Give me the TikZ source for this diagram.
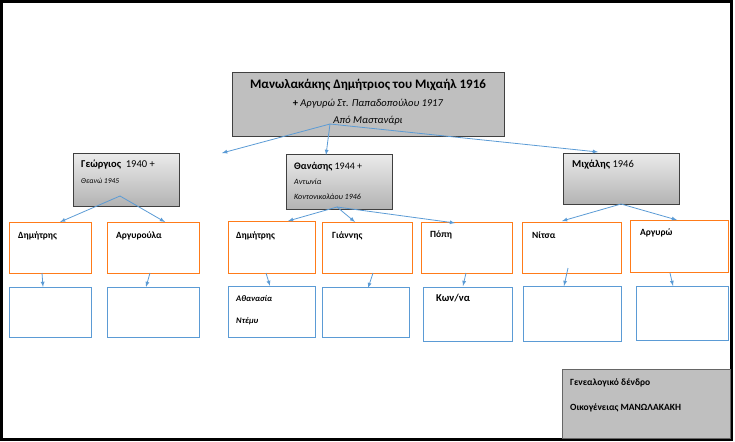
\documentclass[tikz,border=0pt]{standalone}
\usepackage{fontspec}
\setmainfont{Carlito}
\begin{document}
\begin{tikzpicture}[x=1pt,y=-1pt,
 box/.style={draw,anchor=north west,inner sep=0pt,line width=1pt},
 gray/.style={box,draw=black!75,fill=black!25},
 grad/.style={box,draw=black!75,top color=black!8,bottom color=black!30},
 orange/.style={box,draw=orange!85!red!90!white},
 blue/.style={box,draw={rgb,255:red,91;green,155;blue,213}},
 lab/.style={anchor=west,inner sep=0pt,font=\bfseries\fontsize{9.5}{11}\selectfont},
 arr/.style={draw={rgb,255:red,91;green,155;blue,213},line width=0.8pt,-latex}]
\useasboundingbox (0,0) rectangle (735,441);
\draw[line width=3pt] (1.5,1.5) rectangle (731.5,439.5);
% boxes
\node[gray,minimum width=272,minimum height=64] (top) at (232,72) {};
\node[grad,minimum width=106,minimum height=53] (g) at (73,153) {};
\node[grad,minimum width=106,minimum height=55] (t) at (286,154) {};
\node[grad,minimum width=116,minimum height=51] (m) at (563,153) {};
\node[orange,minimum width=82,minimum height=51] (d1) at (9,222) {};
\node[orange,minimum width=92,minimum height=51] (ar) at (107,222) {};
\node[orange,minimum width=87,minimum height=52] (d2) at (228,221) {};
\node[orange,minimum width=90,minimum height=51] (gi) at (322,222) {};
\node[orange,minimum width=91,minimum height=51] (po) at (421,222) {};
\node[orange,minimum width=99,minimum height=51] (ni) at (522,222) {};
\node[orange,minimum width=98,minimum height=52] (ag) at (630,220) {};
\node[blue,minimum width=82,minimum height=50] (b1) at (9,287) {};
\node[blue,minimum width=92,minimum height=50] (b2) at (107,287) {};
\node[blue,minimum width=87,minimum height=51] (b3) at (228,286) {};
\node[blue,minimum width=87,minimum height=50] (b4) at (322,287) {};
\node[blue,minimum width=89,minimum height=54] (b5) at (423,287) {};
\node[blue,minimum width=98,minimum height=55] (b6) at (523,286) {};
\node[blue,minimum width=92,minimum height=54] (b7) at (636,286) {};
\node[gray,draw=black!60,minimum width=168,minimum height=69] (leg) at (562,369) {};
% texts
\node[inner sep=0pt,font=\bfseries\fontsize{13}{15}\selectfont] (tt1) at (368,85) {Μανωλακάκης Δημήτριος του Μιχαήλ 1916};
\node[inner sep=0pt,font=\fontsize{10.5}{12}\selectfont] (tt2) at (368,104) {\textbf{+} \textit{Αργυρώ Στ. Παπαδοπούλου 1917}};
\node[inner sep=0pt,font=\itshape\fontsize{10.5}{12}\selectfont] (tt3) at (368,121) {Από Μαστανάρι};
\node[lab,font=\fontsize{10.5}{12}\selectfont] (gt1) at (81,165) {\textbf{Γεώργιος}\ \ 1940 +};
\node[lab,font=\itshape\fontsize{7.5}{9}\selectfont] (gt2) at (81,181) {Θεανώ 1945};
\node[lab,font=\fontsize{10}{12}\selectfont] (th1) at (294,167) {\textbf{Θανάσης} 1944 +};
\node[lab,font=\itshape\fontsize{8}{9}\selectfont] (th2) at (294,182) {Αντωνία};
\node[lab,font=\itshape\fontsize{8}{9}\selectfont] (th3) at (294,197) {Κοντονικολάου 1946};
\node[lab,font=\fontsize{10.5}{12}\selectfont] (mi) at (572,165) {\textbf{Μιχάλης} 1946};
\node[lab] (l1) at (18,236) {Δημήτρης};
\node[lab] (l2) at (116,236) {Αργυρούλα};
\node[lab] (l3) at (236,236) {Δημήτρης};
\node[lab] (l4) at (332,236) {Γιάννης};
\node[lab] (l5) at (430,235) {Πόπη};
\node[lab] (l6) at (532,235) {Νίτσα};
\node[lab] (l7) at (640,233) {Αργυρώ};
\node[lab,font=\bfseries\itshape\fontsize{8.5}{10}\selectfont] (l8) at (236,298) {Αθανασία};
\node[lab,font=\bfseries\itshape\fontsize{8.5}{10}\selectfont] (l9) at (236,321) {Ντέμυ};
\node[lab,font=\bfseries\fontsize{10.5}{12}\selectfont] (l10) at (436,298) {Κων/να};
\node[lab,font=\bfseries\fontsize{9.5}{11}\selectfont] (lg1) at (570,383) {Γενεαλογικό δένδρο};
\node[lab,font=\bfseries\fontsize{9.5}{11}\selectfont] (lg2) at (570,408) {Οικογένειας ΜΑΝΩΛΑΚΑΚΗ};
% connector coordinates
\coordinate (o1) at (330,124);
\coordinate (tA) at (222,153);
\coordinate (tB) at (326,155);
\coordinate (tC) at (598,152);
\coordinate (og) at (120,196);
\coordinate (ot) at (337,207);
\coordinate (om) at (621,204);
\path[arr] (o1) -- (tA); \path[arr] (o1) -- (tB); \path[arr] (o1) -- (tC);
\path[arr] (og) -- (60,222); \path[arr] (og) -- (165,222);
\path[arr] (ot) -- (288,221); \path[arr] (ot) -- (355,222); \path[arr] (ot) -- (455,223);
\path[arr] (om) -- (562,221); \path[arr] (om) -- (677,220);
\path[arr] (42,273) -- (b1.north -| 43,0);
\path[arr] (150,273) -- (146,287);
\path[arr] (266,273) -- (270,286);
\path[arr] (373,273) -- (368,288);
\path[arr] (466,273) -- (463,286);
\path[arr] (568,268) -- (564,286);
\path[arr] (670,273) -- (673,286);
\end{tikzpicture}
\end{document}
